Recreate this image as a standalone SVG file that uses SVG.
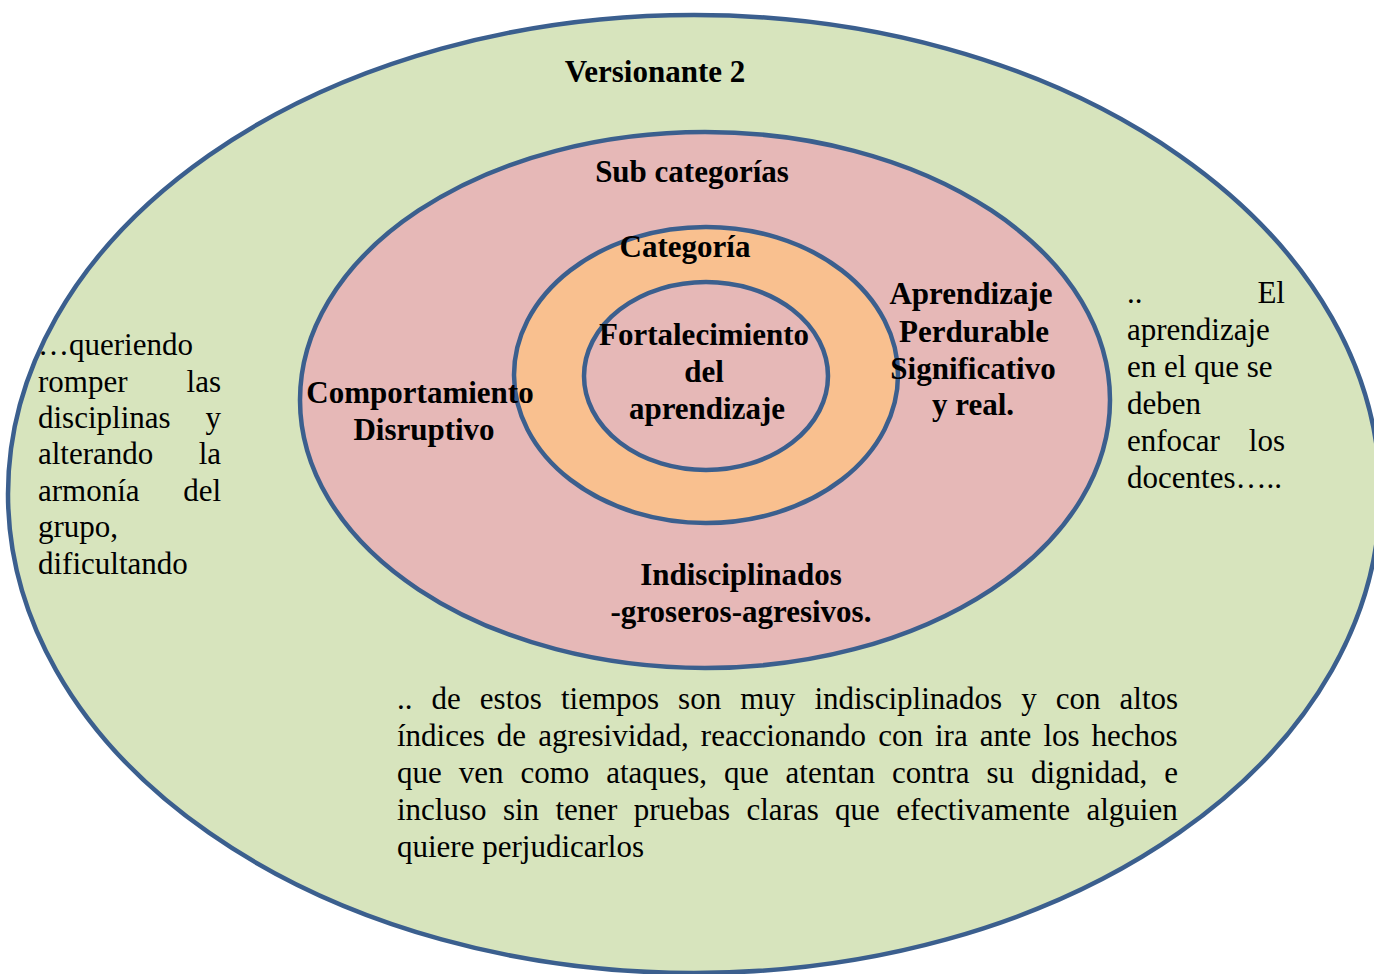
<svg xmlns="http://www.w3.org/2000/svg" width="1374" height="974" viewBox="0 0 1374 974">
<style>
.ring{stroke:#3B5F8E;stroke-width:4.5}
.b{font-family:"Liberation Serif","Times New Roman",serif;font-weight:bold;font-size:31px;fill:#000}
.r{font-family:"Liberation Serif","Times New Roman",serif;font-size:31px;fill:#000}
.m{text-anchor:middle}
.e{text-anchor:end}
</style>
<rect width="1374" height="974" fill="#FFFFFF"/>
<g id="versionante">
<ellipse class="ring" cx="694" cy="494" rx="686" ry="479" fill="#D7E4BD"/>
</g>
<g id="subcategorias">
<ellipse class="ring" cx="705" cy="400" rx="405" ry="268" fill="#E6B8B7"/>
</g>
<g id="categoria">
<ellipse class="ring" cx="706" cy="375" rx="192" ry="148" fill="#F9C08F"/>
</g>
<g id="centro">
<ellipse class="ring" cx="706" cy="376" rx="122" ry="94" fill="#E6B8B7"/>
</g>
<g id="labels">
<text class="b m" x="655" y="82">Versionante 2</text>
<text class="b m" x="692" y="182">Sub categorías</text>
<text class="b m" x="685" y="257">Categoría</text>
<text class="b m" x="704" y="345">Fortalecimiento</text>
<text class="b m" x="704" y="382">del</text>
<text class="b m" x="707" y="419">aprendizaje</text>
<text class="b m" x="420" y="403">Comportamiento</text>
<text class="b m" x="424" y="440">Disruptivo</text>
<text class="b m" x="971" y="304">Aprendizaje</text>
<text class="b m" x="974" y="342">Perdurable</text>
<text class="b m" x="973" y="379">Significativo</text>
<text class="b m" x="973" y="415">y real.</text>
<text class="b m" x="741" y="585">Indisciplinados</text>
<text class="b m" x="741" y="622">-groseros-agresivos.</text>
</g>
<g id="cita-izquierda">
<text class="r" x="38" y="355">…queriendo</text>
<text class="r" x="38" y="392">romper</text><text class="r e" x="221" y="392">las</text>
<text class="r" x="38" y="428">disciplinas</text><text class="r e" x="221" y="428">y</text>
<text class="r" x="38" y="464">alterando</text><text class="r e" x="221" y="464">la</text>
<text class="r" x="38" y="501">armonía</text><text class="r e" x="221" y="501">del</text>
<text class="r" x="38" y="537">grupo,</text>
<text class="r" x="38" y="574">dificultando</text>
</g>
<g id="cita-derecha">
<text class="r" x="1127" y="303">..</text><text class="r e" x="1285" y="303">El</text>
<text class="r" x="1127" y="340">aprendizaje</text>
<text class="r" x="1127" y="377">en el que se</text>
<text class="r" x="1127" y="414">deben</text>
<text class="r" x="1127" y="451">enfocar</text><text class="r e" x="1285" y="451">los</text>
<text class="r" x="1127" y="488">docentes…..</text>
</g>
<g id="cita-inferior">
<text class="r" x="397" y="709" word-spacing="11.3">.. de estos tiempos son muy indisciplinados y con altos</text>
<text class="r" x="397" y="746" word-spacing="4.3">índices de agresividad, reaccionando con ira ante los hechos</text>
<text class="r" x="397" y="783" word-spacing="9.2">que ven como ataques, que atentan contra su dignidad, e</text>
<text class="r" x="397" y="820" word-spacing="8.6">incluso sin tener pruebas claras que efectivamente alguien</text>
<text class="r" x="397" y="857">quiere perjudicarlos</text>
</g>
</svg>
